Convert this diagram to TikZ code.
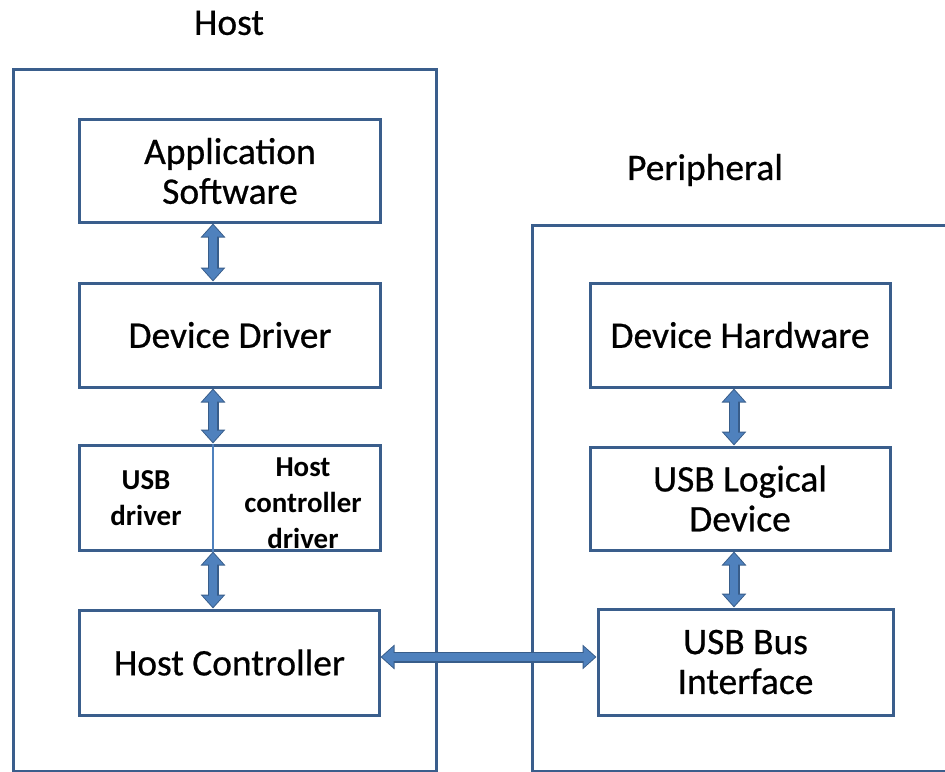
\documentclass[tikz,border=0pt]{standalone}
\usepackage{fontspec}
\setmainfont{Carlito}
\usetikzlibrary{arrows.meta}
\definecolor{frame}{RGB}{58,94,140}
\definecolor{busfill}{RGB}{79,129,189}
\definecolor{busedge}{RGB}{56,93,138}
\newcommand\heavytext{\addfontfeature{FakeBold=0.6}}
\begin{document}
\begin{tikzpicture}[x=1bp,y=-1bp,
  title/.style={font=\fontsize{37.6}{42}\selectfont\heavytext, inner sep=0},
  block/.style={draw=frame, line width=3bp, fill=white, inner sep=0,
    align=center, font=\fontsize{37.6}{40}\selectfont\heavytext},
  small/.style={inner sep=0, align=center, font=\fontsize{29}{36}\bfseries\selectfont},
  container/.style={draw=frame, line width=3bp},
  busout/.style={line width=11bp, draw=busedge,
    {Triangle[width=24bp,length=14bp]}-{Triangle[width=24bp,length=14bp]}},
  busin/.style={line width=7.5bp, draw=busfill, shorten <=1.5bp, shorten >=1.5bp,
    {Triangle[width=20bp,length=11.5bp]}-{Triangle[width=20bp,length=11.5bp]}}]
\clip (0,0) rectangle (945,772);

% titles
\node[title] (hosttitle) at (229,23) {Host};
\node[title] (periphtitle) at (705,170) {Peripheral};

% outer containers
\draw[container] (13,70) rectangle (436,771);
\draw[container] (532,225) rectangle (960,771);

% host stack
\node[block, minimum width=300bp, minimum height=102bp] (app) at (230,171) {Application\\Software};
\node[block, minimum width=300bp, minimum height=104bp] (dd) at (230,335) {Device Driver};
\node[block, minimum width=300bp, minimum height=105bp] (usb) at (230,497.5) {};
\node[block, minimum width=299bp, minimum height=105bp] (hc) at (229.5,662.5) {Host Controller};

% split inside the USB driver block
\coordinate (axis) at (213,0);
\draw[busfill, line width=1.5bp] (usb.north -| axis) -- (usb.south -| axis);
\node[small] (usbdrv) at (146,498) {USB\\driver};
\node[small] (hcdrv) at (303,503) {Host\\controller\\driver};

% peripheral stack
\node[block, minimum width=300bp, minimum height=104bp] (dh) at (740,335) {Device Hardware};
\node[block, minimum width=300bp, minimum height=103bp] (uld) at (740,498.5) {USB Logical\\Device};
\node[block, minimum width=295bp, minimum height=106bp] (ubi) at (745.5,662) {USB Bus\\Interface};
\coordinate (paxis) at (734,0);

% connectors
\foreach \a/\b in {app/dd, dd/usb, usb/hc} {
  \draw[busout] (\a.south -| axis) -- (\b.north -| axis);
  \draw[busin] (\a.south -| axis) -- (\b.north -| axis);
}
\foreach \a/\b in {dh/uld, uld/ubi} {
  \draw[busout] (\a.south -| paxis) -- (\b.north -| paxis);
  \draw[busin] (\a.south -| paxis) -- (\b.north -| paxis);
}
\coordinate (busy) at (0,657);
\draw[busout] (hc.east |- busy) -- (ubi.west |- busy);
\draw[busin] (hc.east |- busy) -- (ubi.west |- busy);
\end{tikzpicture}
\end{document}
